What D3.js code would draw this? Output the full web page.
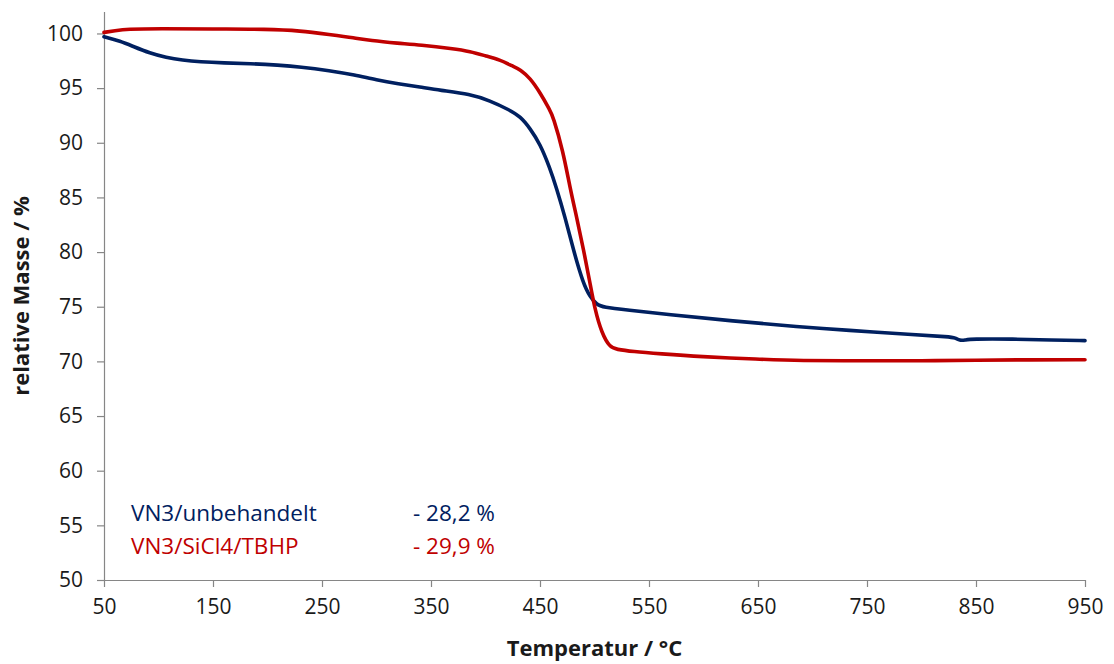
<!DOCTYPE html>
<html><head><meta charset="utf-8">
<script src="https://cdn.jsdelivr.net/npm/d3@7"></script>
<style>body{margin:0;background:#fff}svg{display:block}</style>
</head><body>
<svg id="c" width="1114" height="664"></svg>
<script>
// Data
const tempBlue = [50,65,77,92,107,122,138,160,184,210,230,257,280,300,320,340,358,386,404,422,432,441,450,459,465,473,480.6,489.7,496,502,508,530,566,627,688,731,792,826,831,835,840,845,884,920,950];
const massBlue = [99.7,99.3,98.8,98.2,97.8,97.55,97.4,97.3,97.25,97.1,96.95,96.6,96.2,95.75,95.4,95.1,94.8,94.45,93.85,93.0,92.4,91.3,89.9,87.7,85.9,83.2,80.2,77.1,75.9,75.2,74.95,74.7,74.3,73.7,73.15,72.85,72.45,72.25,72.15,71.9,71.95,72.05,72.05,71.95,71.9];
const tempRed = [50,60,71,100,150,200,230,257,280,294,320,340,370,386,400,413,425,432,441,450,459,462,471,477.5,483.6,490,496,500.5,506.6,514,520,535,560,597,650,688,750,800,850,900,950];
const massRed = [100.1,100.25,100.4,100.45,100.4,100.4,100.25,99.9,99.6,99.35,99.1,98.95,98.6,98.35,97.95,97.6,97.0,96.7,95.9,94.6,93.0,92.4,89.3,85.9,83.2,80.2,77.1,74.7,72.6,71.3,71.1,70.9,70.7,70.43,70.2,70.06,70.05,70.05,70.1,70.15,70.15];
const seriesNames = ["VN3/unbehandelt","VN3/SiCl4/TBHP"];
const seriesLoss = ["- 28,2 %","- 29,9 %"];
const xTicks = [50,150,250,350,450,550,650,750,850,950];
const yTicks = [50,55,60,65,70,75,80,85,90,95,100];
const xTitle = "Temperatur / °C";
const yTitle = "relative Masse / %";
const colors = ["#002060","#C00000"];

const svg = d3.select("#c");
const font = "'Open Sans', sans-serif";
const x = d3.scaleLinear().domain([50,950]).range([104,1085]);
const y = d3.scaleLinear().domain([50,102]).range([580,11.6]);
const axisColor = "#868686";

// Axes
const gx = svg.append("g").attr("transform",`translate(0,${y(50)})`)
  .call(d3.axisBottom(x).tickValues(xTicks).tickSize(7).tickPadding(12).tickSizeOuter(0));
const gy = svg.append("g").attr("transform",`translate(${x(50)},0)`)
  .call(d3.axisLeft(y).tickValues(yTicks).tickSize(7).tickPadding(14).tickSizeOuter(0));
[gx,gy].forEach(g=>{
  g.selectAll("path,line").attr("stroke",axisColor).attr("stroke-width",1.2);
  g.selectAll("text").attr("font-family",font).attr("font-size",21).attr("fill","#1a1a1a");
});

// Lines
const line = d3.line().x(d=>x(d[0])).y(d=>y(d[1])).curve(d3.curveBasis);
const series = [d3.zip(tempBlue,massBlue), d3.zip(tempRed,massRed)];
series.forEach((s,i)=>{
  svg.append("path").datum(s).attr("d",line).attr("fill","none")
    .attr("stroke",colors[i]).attr("stroke-width",3.6)
    .attr("stroke-linejoin","round").attr("stroke-linecap","round");
});

// Annotations
seriesNames.forEach((n,i)=>{
  svg.append("text").attr("x",131).attr("y",521+i*33).text(n)
    .attr("font-family",font).attr("font-size",22.5).attr("fill",colors[i]);
  svg.append("text").attr("x",413).attr("y",521+i*33).text(seriesLoss[i])
    .attr("font-family",font).attr("font-size",22.5).attr("fill",colors[i]);
});

// Titles
svg.append("text").attr("x",(x(50)+x(950))/2).attr("y",656).attr("text-anchor","middle")
  .attr("font-family",font).attr("font-weight","bold").attr("font-size",22).attr("fill","#1a1a1a").text(xTitle);
svg.append("text").attr("transform",`translate(29,${296}) rotate(-90)`).attr("text-anchor","middle")
  .attr("font-family",font).attr("font-weight","bold").attr("font-size",22).attr("fill","#1a1a1a").text(yTitle);
</script>
</body></html>
